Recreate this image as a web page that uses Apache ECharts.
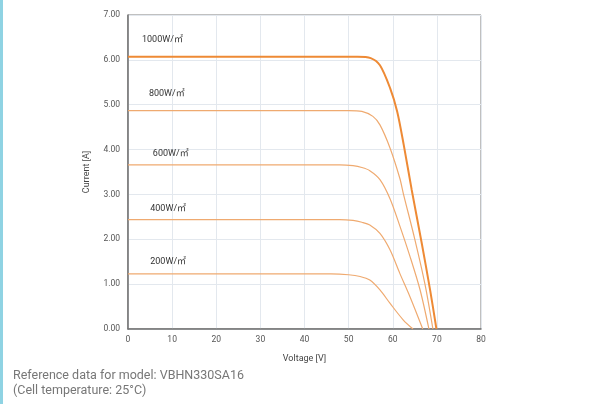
<!DOCTYPE html>
<html>
<head>
<meta charset="utf-8">
<script src="https://cdn.jsdelivr.net/npm/echarts@6/dist/echarts.min.js"></script>
<style>
html,body{margin:0;padding:0;background:#fff;}
#c{width:603px;height:404px;}
</style>
</head>
<body>
<div id="c"></div>
<script>
// Irradiance levels (series names)
const irradiance = ['1000W/㎡', '800W/㎡', '600W/㎡', '400W/㎡', '200W/㎡'];
// I-V curves: [voltage V, current A]
const curve1000 = [[0,6.07],[52,6.07],[55,6.04],[57.1,5.88],[59.4,5.37],[61,4.85],[62.5,4.1],[64.3,3.1],[66.5,1.95],[68.5,0.85],[69.9,0]];
const curve800  = [[0,4.87],[50,4.87],[53,4.85],[55.5,4.74],[57.1,4.55],[59.4,4.03],[61.6,3.36],[62.4,3.02],[65,2.0],[67.3,1.0],[69.1,0]];
const curve600  = [[0,3.66],[48,3.66],[51,3.64],[53,3.6],[54.8,3.53],[57.1,3.33],[59.4,2.9],[61.6,2.3],[63.9,1.62],[66.2,0.87],[68.2,0]];
const curve400  = [[0,2.44],[48,2.44],[51,2.42],[53,2.38],[54.8,2.32],[57.1,2.13],[59.4,1.76],[61.6,1.24],[63.9,0.72],[66.8,0]];
const curve200  = [[0,1.23],[46,1.23],[50,1.21],[52.6,1.17],[54.8,1.09],[57.1,0.87],[59.4,0.57],[62.4,0.2],[64.6,0]];
const curves = [curve1000, curve800, curve600, curve400, curve200];
// Axis titles and footnote
const xTitle = 'Voltage [V]';
const yTitle = 'Current [A]';
const footnote = ['Reference data for model: VBHN330SA16', '(Cell temperature: 25°C)'];

const labelAnchors = [[7.8,6.44],[8.8,5.25],[9.7,3.9],[9.1,2.69],[9.1,1.49]];
const font = 'Roboto, "Noto Sans CJK JP", sans-serif';

const chart = echarts.init(document.getElementById('c'));
chart.setOption({
  animation: false,
  backgroundColor: '#ffffff',
  grid: { left: 128, right: 122, top: 15, bottom: 75, show: true, borderColor: '#808080', borderWidth: 1 },
  xAxis: {
    type: 'value', min: 0, max: 80, interval: 10,
    name: xTitle, nameLocation: 'middle', nameGap: 25,
    nameTextStyle: { color: '#444', fontSize: 9, fontFamily: font },
    axisLine: { lineStyle: { color: '#707070', width: 1.5 } },
    axisTick: { show: false },
    axisLabel: { color: '#555', fontSize: 8.5, fontFamily: font, margin: 7 },
    splitLine: { show: true, lineStyle: { color: '#e3e8ee', width: 1 } }
  },
  yAxis: {
    type: 'value', min: 0, max: 7, interval: 1,
    name: yTitle, nameLocation: 'middle', nameGap: 37,
    nameTextStyle: { color: '#444', fontSize: 9, fontFamily: font },
    axisLine: { show: true, lineStyle: { color: '#707070', width: 1.5 } },
    axisTick: { show: false },
    axisLabel: { color: '#555', fontSize: 8.5, fontFamily: font, margin: 8, formatter: v => v.toFixed(2) },
    splitLine: { show: true, lineStyle: { color: '#e3e8ee', width: 1 } }
  },
  series: curves.map((d, k) => ({
    type: 'line',
    name: irradiance[k],
    data: d,
    smooth: 0.3,
    symbol: 'none',
    z: k === 0 ? 5 : 3,
    lineStyle: { color: k === 0 ? '#ee8a35' : '#efaa70', width: k === 0 ? 2 : 1.2 },
    markPoint: {
      symbol: 'circle', symbolSize: 1,
      itemStyle: { color: 'rgba(0,0,0,0)' },
      label: { show: true, position: 'inside', color: '#333', fontSize: 9, fontFamily: font, formatter: irradiance[k] },
      data: [{ coord: labelAnchors[k] }]
    }
  })),
  graphic: [
    { type: 'rect', left: 0, top: 0, shape: { width: 3, height: 404 }, style: { fill: '#8fd3e3' } },
    { type: 'text', left: 13, top: 370, style: { text: footnote[0], fill: '#777', font: '12.5px ' + font } },
    { type: 'text', left: 13, top: 385, style: { text: footnote[1], fill: '#777', font: '12.5px ' + font } }
  ]
});
</script>
</body>
</html>
